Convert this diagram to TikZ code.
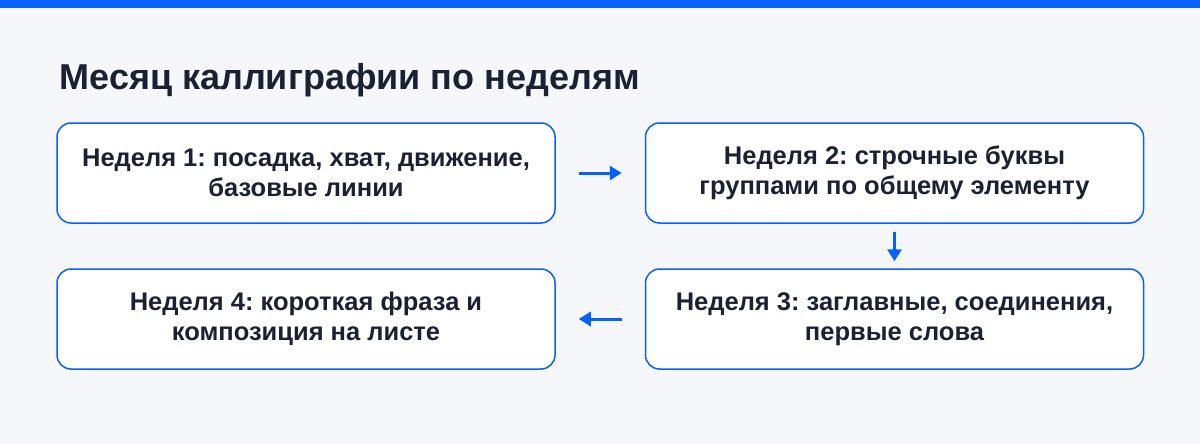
\documentclass[tikz,border=0pt]{standalone}
\usepackage{fontspec}
\setmainfont{Liberation Sans}
\usetikzlibrary{arrows.meta}
\definecolor{bg}{HTML}{F5F7FB}
\definecolor{accent}{HTML}{0A5FFF}
\definecolor{ink}{HTML}{1C2033}
\frenchspacing
\begin{document}
\begin{tikzpicture}[x=1pt,y=-1pt,
  box/.style={draw=accent,line width=1.5pt,fill=white,rounded corners=14pt,
    minimum width=498pt,minimum height=100pt,align=center,text=ink,
    font=\bfseries\fontsize{25.5}{30}\selectfont},
  arr/.style={draw=accent,line width=3pt,-{Triangle[length=12pt,width=14pt]}}]
\fill[bg] (0,0) rectangle (1200,444);
\useasboundingbox (0,0) rectangle (1200,444);
\fill[accent] (0,0) rectangle (1200,8);
\node[anchor=base west,text=ink,font=\bfseries\fontsize{36}{42}\selectfont] (title) at (56,90) {Месяц каллиграфии по неделям};
\node[box] (w1) at (306,173) {Неделя 1: посадка, хват, движение,\\базовые линии};
\node[box] (w2) at (894.5,173) {Неделя 2: строчные буквы\\группами по общему элементу};
\node[box] (w3) at (894.5,319) {Неделя 3: заглавные, соединения,\\первые слова};
\node[box] (w4) at (306,319) {Неделя 4: короткая фраза и\\композиция на листе};
\draw[arr] ([xshift=23pt]w1.east) -- ([xshift=-23pt]w2.west);
\draw[arr] ([yshift=-8pt]w2.south) -- ([yshift=7pt]w3.north);
\draw[arr] ([xshift=-23pt]w3.west) -- ([xshift=23pt]w4.east);
\end{tikzpicture}
\end{document}
